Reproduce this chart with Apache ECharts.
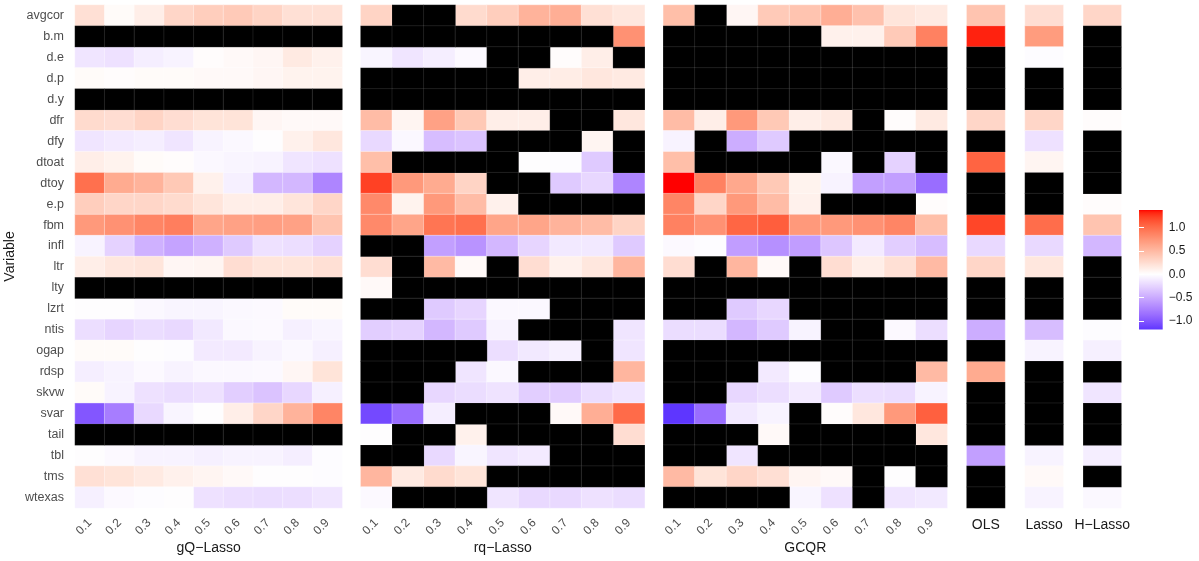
<!DOCTYPE html>
<html><head><meta charset="utf-8">
<script src="https://cdn.jsdelivr.net/npm/echarts@6/dist/echarts.min.js"></script>
<style>html,body{margin:0;padding:0;background:#fff}#c{width:1199px;height:561px}</style>
</head><body><div id="c"></div><script>
const N = null;
const variables = ['avgcor','b.m','d.e','d.p','d.y','dfr','dfy','dtoat','dtoy','e.p','fbm','infl','ltr','lty','lzrt','ntis','ogap','rdsp','skvw','svar','tail','tbl','tms','wtexas'];
const quantiles = ['0.1','0.2','0.3','0.4','0.5','0.6','0.7','0.8','0.9'];

// rows follow `variables`, columns follow `quantiles`; null = not selected (black)
const gqLasso = [
  [0.22,0.03,0.12,0.29,0.35,0.38,0.31,0.22,0.22],
  [N,N,N,N,N,N,N,N,N],
  [-0.15,-0.17,-0.1,-0.07,0.015,0.04,0.06,0.15,0.1],
  [0.03,0.015,0.03,0.03,0.04,0.04,0.06,0.09,0.09],
  [N,N,N,N,N,N,N,N,N],
  [0.26,0.24,0.31,0.24,0.2,0.2,0.06,0.04,0.04],
  [-0.15,-0.12,-0.1,-0.15,-0.07,-0.04,0,0.1,0.17],
  [0.12,0.09,0.03,0.015,-0.04,-0.06,-0.07,-0.15,-0.17],
  [0.98,0.6,0.54,0.39,0.1,-0.09,-0.42,-0.42,-0.72],
  [0.35,0.29,0.29,0.26,0.19,0.12,0.12,0.19,0.29],
  [0.72,0.77,0.85,0.89,0.64,0.66,0.68,0.66,0.42],
  [-0.07,-0.26,-0.46,-0.54,-0.46,-0.31,-0.17,-0.19,-0.26],
  [0.12,0.17,0.19,0.06,0.07,0.24,0.19,0.19,0.22],
  [N,N,N,N,N,N,N,N,N],
  [0,0,-0.04,-0.06,-0.06,-0.04,-0.03,0.03,0.03],
  [-0.19,-0.24,-0.2,-0.22,-0.13,-0.04,-0.03,-0.09,-0.06],
  [0.03,0.03,0,-0.015,-0.12,-0.12,-0.07,-0.04,-0.09],
  [-0.1,-0.07,-0.03,-0.07,-0.04,-0.04,-0.03,0.06,0.2],
  [0.03,-0.07,-0.17,-0.2,-0.17,-0.29,-0.35,-0.23,-0.09],
  [-1.0,-0.77,-0.22,-0.06,0,0.12,0.29,0.54,0.85],
  [N,N,N,N,N,N,N,N,N],
  [0,-0.03,-0.07,-0.07,-0.09,-0.07,-0.07,-0.1,-0.015],
  [0.22,0.2,0.15,0.1,0.07,0.04,0,0,-0.015],
  [-0.09,-0.03,-0.015,0,-0.17,-0.19,-0.2,-0.19,-0.15]
];
const rqLasso = [
  [0.31,N,N,0.26,0.35,0.54,0.57,0.22,0.17],
  [N,N,N,N,N,N,N,N,0.77],
  [-0.06,-0.15,-0.1,-0.03,N,N,0.015,0.12,N],
  [N,N,N,N,N,0.12,0.13,0.17,0.15],
  [N,N,N,N,N,N,N,N,N],
  [0.48,0.07,0.66,0.39,0.12,0.12,N,N,0.17],
  [-0.22,-0.04,-0.39,-0.35,N,N,N,0.07,N],
  [0.46,N,N,N,N,0,-0.015,-0.31,N],
  [1.22,0.72,0.6,0.31,N,N,-0.31,-0.23,-0.72],
  [0.82,0.09,0.72,0.48,0.1,N,N,N,N],
  [0.82,0.64,0.95,0.98,0.64,0.64,0.54,0.48,0.31],
  [N,N,-0.57,-0.64,-0.42,-0.24,-0.13,-0.13,-0.31],
  [0.24,N,0.49,0.04,N,0.24,0.1,0.17,0.52],
  [0.04,N,N,N,N,N,N,N,N],
  [N,N,-0.31,-0.24,-0.04,-0.04,N,N,N],
  [-0.29,-0.26,-0.42,-0.31,-0.07,N,N,N,-0.15],
  [N,N,N,N,-0.19,-0.13,-0.09,N,-0.15],
  [N,N,N,-0.15,-0.04,N,N,N,0.52],
  [N,N,-0.23,-0.2,-0.16,-0.29,-0.3,-0.2,-0.15],
  [-1.08,-0.87,-0.1,N,N,N,0.04,0.57,1.01],
  [0,N,N,0.1,N,N,N,N,0.24],
  [N,N,-0.22,-0.06,-0.15,-0.12,N,N,N],
  [0.52,0.15,0.26,0.2,N,N,N,N,N],
  [-0.03,N,N,N,-0.15,-0.22,-0.22,-0.17,-0.2]
];
const gcqr = [
  [0.46,N,0.06,0.38,0.42,0.57,0.44,0.19,0.15],
  [N,N,N,N,N,0.1,0.1,0.38,0.87],
  [N,N,N,N,N,N,N,N,N],
  [N,N,N,N,N,N,N,N,N],
  [N,N,N,N,N,N,N,N,N],
  [0.48,0.12,0.72,0.39,0.12,0.15,N,0.015,0.15],
  [-0.07,N,-0.48,-0.31,N,N,N,N,N],
  [0.46,N,N,N,N,-0.04,N,-0.26,N],
  [1.37,0.87,0.62,0.39,0.09,-0.07,-0.57,-0.57,-0.87],
  [0.85,0.29,0.72,0.48,0.1,N,N,N,0.015],
  [0.87,0.77,1.04,1.08,0.72,0.72,0.77,0.85,0.46],
  [-0.03,-0.015,-0.58,-0.66,-0.58,-0.33,-0.12,-0.29,-0.39],
  [0.24,N,0.52,0.04,N,0.24,0.12,0.22,0.49],
  [N,N,N,N,N,N,N,N,N],
  [N,N,-0.31,-0.23,N,N,N,N,N],
  [-0.2,-0.2,-0.42,-0.31,-0.07,N,N,-0.03,-0.19],
  [N,N,N,N,N,N,N,N,N],
  [N,N,N,-0.12,-0.015,N,N,N,0.49],
  [N,N,-0.23,-0.19,-0.12,-0.31,-0.19,-0.2,-0.07],
  [-1.18,-0.87,-0.13,-0.07,N,0.015,0.17,0.72,1.07],
  [N,N,N,0.04,N,N,N,N,0.17],
  [N,N,-0.15,N,N,N,N,N,N],
  [0.49,0.2,0.29,0.23,0.07,0.04,N,0,N],
  [N,N,N,N,-0.06,-0.17,N,-0.15,-0.13]
];
const ols    = [0.42,1.32,N,N,N,0.29,N,1.05,N,N,1.2,-0.22,0.29,N,N,-0.48,N,0.6,N,N,N,-0.57,N,N];
const lasso  = [0.24,0.7,-0.015,N,N,0.29,-0.17,0.07,N,N,1.0,-0.22,0.17,N,N,-0.39,-0.07,N,N,N,N,-0.07,0.04,-0.07];
const hLasso = [0.29,N,N,N,N,0.015,N,N,N,0.015,0.42,-0.42,N,N,N,-0.015,-0.09,N,-0.15,N,N,-0.1,N,-0.04];

// ---------- colour scale (ggplot2 gradient2 in CIELAB: blue - white - red) ----------
const LAB_LOW = [32.30, 79.19, -107.86], LAB_MID = [100, 0, 0], LAB_HIGH = [53.24, 80.09, 67.20];
function lab2hex(L, a, b) {
  const fy = (L + 16) / 116, fx = fy + a / 500, fz = fy - b / 200;
  const fi = t => (t * t * t > 0.008856 ? t * t * t : (t - 16 / 116) / 7.787);
  const X = 0.95047 * fi(fx), Y = fi(fy), Z = 1.08883 * fi(fz);
  let r = 3.2406 * X - 1.5372 * Y - 0.4986 * Z;
  let g = -0.9689 * X + 1.8758 * Y + 0.0415 * Z;
  let bb = 0.0557 * X - 0.2040 * Y + 1.0570 * Z;
  const gm = c => { c = c > 0.0031308 ? 1.055 * Math.pow(c, 1 / 2.4) - 0.055 : 12.92 * c; return Math.round(Math.max(0, Math.min(1, c)) * 255); };
  return 'rgb(' + gm(r) + ',' + gm(g) + ',' + gm(bb) + ')';
}
const allPanels = [
  { title: 'gQ−Lasso', cats: quantiles, rows: gqLasso, left: 75, width: 267.3 },
  { title: 'rq−Lasso', cats: quantiles, rows: rqLasso, left: 360.7, width: 284 },
  { title: 'GCQR', cats: quantiles, rows: gcqr, left: 663.3, width: 284 },
  { title: 'OLS', cats: [''], rows: ols.map(v => [v]), left: 966.7, width: 38.3 },
  { title: 'Lasso', cats: [''], rows: lasso.map(v => [v]), left: 1025, width: 38.3 },
  { title: 'H−Lasso', cats: [''], rows: hLasso.map(v => [v]), left: 1083.3, width: 38 }
];
let vals = [];
allPanels.forEach(p => p.rows.forEach(r => r.forEach(v => { if (v !== null) vals.push(v); })));
const SCALE_MIN = Math.min(...vals), SCALE_MAX = Math.max(...vals);
const M = Math.max(Math.abs(SCALE_MIN), Math.abs(SCALE_MAX));
function colorAt(v) {
  const t = Math.min(1, Math.abs(v) / M);
  const end = v >= 0 ? LAB_HIGH : LAB_LOW;
  return lab2hex(LAB_MID[0] + (end[0] - LAB_MID[0]) * t, LAB_MID[1] + (end[1] - LAB_MID[1]) * t, LAB_MID[2] + (end[2] - LAB_MID[2]) * t);
}
const NSTOP = 100;
const stopColors = [], gradStops = [];
for (let k = 0; k <= NSTOP; k++) {
  const v = SCALE_MIN + (SCALE_MAX - SCALE_MIN) * k / NSTOP;
  stopColors.push(colorAt(v));
  gradStops.push({ offset: k / NSTOP, color: colorAt(v) });
}

// ---------- build option ----------
const FONT = 'Liberation Sans, Arial, sans-serif';
const grids = [], xAxes = [], yAxes = [], valueSeries = [], naSeries = [];
allPanels.forEach((p, i) => {
  grids.push({ left: p.left, top: 5, width: p.width, height: 503, outerBoundsMode: 'none', containLabel: false });
  const multi = p.cats.length > 1;
  xAxes.push({
    type: 'category', gridIndex: i, data: p.cats,
    axisLine: { show: false }, axisTick: { show: false }, splitLine: { show: false },
    axisLabel: { show: multi, rotate: 45, margin: 13, fontSize: 12, color: '#4d4d4d', fontFamily: FONT },
    name: p.title, nameLocation: 'middle', nameGap: multi ? 33 : 10, nameMoveOverlap: false,
    nameTextStyle: { fontSize: 14, color: '#1a1a1a', fontFamily: FONT }
  });
  yAxes.push({
    type: 'category', gridIndex: i, data: variables, inverse: true,
    axisLine: { show: false }, axisTick: { show: false }, splitLine: { show: false },
    axisLabel: { show: i === 0, margin: 11, fontSize: 12.5, color: '#4d4d4d', fontFamily: FONT },
    name: i === 0 ? 'Variable' : '', nameLocation: 'middle', nameGap: 58, nameRotate: 90, nameMoveOverlap: false,
    nameTextStyle: { fontSize: 14, color: '#1a1a1a', fontFamily: FONT }
  });
  const d = [], na = [];
  p.rows.forEach((r, yi) => r.forEach((v, xi) => { if (v === null) na.push([xi, yi, 0]); else d.push([xi, yi, v]); }));
  valueSeries.push({
    type: 'heatmap', xAxisIndex: i, yAxisIndex: i, data: d, silent: true,
    itemStyle: { borderColor: 'rgba(255,255,255,0.6)', borderWidth: 0.6 }, emphasis: { disabled: true }
  });
  naSeries.push({
    type: 'heatmap', xAxisIndex: i, yAxisIndex: i, data: na, silent: true,
    itemStyle: { color: '#000', borderColor: 'rgba(255,255,255,0.1)', borderWidth: 1 }, emphasis: { disabled: true }
  });
});

// colour bar (legend) grid
const PX_PER_UNIT = 46.85, ZERO_Y = 274.2;
grids.push({ left: 1139, width: 23.7, top: ZERO_Y - 1.5 * PX_PER_UNIT, height: 3 * PX_PER_UNIT, outerBoundsMode: 'none', containLabel: false });
xAxes.push({ type: 'value', gridIndex: 6, min: 0, max: 1, show: false });
const fmt = v => (Math.abs(v) > 1.05 ? '' : (v < 0 ? '−' : '') + Math.abs(v).toFixed(1));
yAxes.push({
  type: 'value', gridIndex: 6, position: 'right', min: -1.5, max: 1.5, interval: 0.5, z: 10,
  axisLine: { show: false }, splitLine: { show: false },
  axisTick: { show: true, inside: true, length: 5, lineStyle: { color: '#fff', width: 1 } },
  axisLabel: { show: true, margin: 6, fontSize: 12, color: '#1a1a1a', fontFamily: FONT, formatter: fmt }
});
yAxes.push({
  type: 'value', gridIndex: 6, position: 'left', min: -1.5, max: 1.5, interval: 0.5, z: 10,
  axisLine: { show: false }, splitLine: { show: false }, axisLabel: { show: false },
  axisTick: { show: true, inside: true, length: 5, lineStyle: { color: '#fff', width: 1 } }
});
const barSeries = {
  type: 'custom', xAxisIndex: 6, yAxisIndex: 6, silent: true, z: 1,
  data: [[0, SCALE_MIN, 1, SCALE_MAX]],
  encode: { x: [0, 2], y: [1, 3] },
  renderItem: (params, api) => {
    const p0 = api.coord([api.value(0), api.value(1)]);
    const p1 = api.coord([api.value(2), api.value(3)]);
    return {
      type: 'rect',
      shape: { x: p0[0], y: p1[1], width: p1[0] - p0[0], height: p0[1] - p1[1] },
      style: { fill: new echarts.graphic.LinearGradient(0, 1, 0, 0, gradStops) }
    };
  }
};

const option = {
  backgroundColor: '#fff',
  animation: false,
  textStyle: { fontFamily: FONT },
  grid: grids, xAxis: xAxes, yAxis: yAxes,
  visualMap: {
    show: false, type: 'continuous', min: SCALE_MIN, max: SCALE_MAX,
    seriesIndex: [0, 1, 2, 3, 4, 5], dimension: 2,
    inRange: { color: stopColors }
  },
  series: valueSeries.concat(naSeries).concat([barSeries])
};
const chart = echarts.init(document.getElementById('c'), null, { renderer: 'canvas' });
chart.setOption(option);
</script></body></html>
